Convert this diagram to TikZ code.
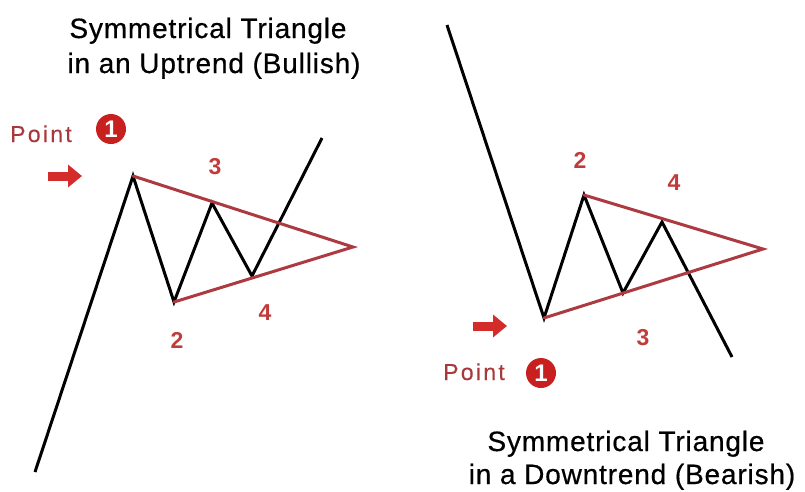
\documentclass[tikz,border=0pt]{standalone}
\usepackage{fontspec}
\setmainfont{Liberation Sans}
\newfontfamily\titlefont[LetterSpace=3, FakeBold=0.6]{Liberation Sans}
\newfontfamily\pointfont[LetterSpace=10, FakeBold=0.3]{Liberation Sans}
\usetikzlibrary{arrows.meta}

\begin{document}
\begin{tikzpicture}[
    x=1pt, y=-1pt,
    every node/.style={inner sep=0pt},
    title/.style={font=\titlefont\fontsize{28}{34}\selectfont, anchor=base},
    count/.style={font=\bfseries\fontsize{23}{28}\selectfont, text=numred},
    pointlabel/.style={font=\pointfont\fontsize{23}{28}\selectfont,
                       text=ptext, anchor=base west},
    badge/.style={circle, fill=badgered, minimum size=30pt, text=white,
                  font=\bfseries\fontsize{24}{26}\selectfont},
    price/.style={line width=3pt, black, line join=miter},
    trend/.style={line width=3pt, trendred, line cap=round},
    pointer/.style={-{Triangle[length=14pt, width=22pt]}, line width=9pt,
                    arrowred},
]

\definecolor{arrowred}{HTML}{D42B2B}
\definecolor{numred}{HTML}{C23B3B}
\definecolor{trendred}{HTML}{AC3A40}
\definecolor{ptext}{HTML}{A8383C}
\definecolor{badgered}{HTML}{C8201E}

\useasboundingbox (0,0) rectangle (805,491);

% ------------------------------------------------------------ uptrend
\node[title] (titleL1) at (208,38) {Symmetrical Triangle};
\node[title] (titleL2) at (214,73) {in an Uptrend (Bullish)};

\coordinate (u0) at (35,472);
\coordinate (u1) at (133,176);
\coordinate (u2) at (174,302);
\coordinate (u3) at (212,203);
\coordinate (u4) at (252,276);
\coordinate (u5) at (322,138);
\coordinate (uapex) at (353,247);

\draw[price] (u0) -- (u1) -- (u2) -- (u3) -- (u4) -- (u5);
\draw[trend] (u1) -- (uapex) -- (u2);

\node[count] (uc3) at (215,167) {3};
\node[count] (uc2) at (177,340) {2};
\node[count] (uc4) at (265,313) {4};

\node[pointlabel] (upoint) at (10,142) {Point};
\node[badge] (ubadge) at (111,129) {1};
\coordinate (uarrS) at (48,176);
\coordinate (uarrE) at (82,176);
\draw[pointer] (uarrS) -- (uarrE);

% ------------------------------------------------------------ downtrend
\node[title] (titleR1) at (626,451) {Symmetrical Triangle};
\node[title] (titleR2) at (632,484) {in a Downtrend (Bearish)};

\coordinate (d0) at (447,25);
\coordinate (d1) at (544,318);
\coordinate (d2) at (584,195);
\coordinate (d3) at (623,293);
\coordinate (d4) at (662,222);
\coordinate (d5) at (732,357);
\coordinate (dapex) at (763,249);

\draw[price] (d0) -- (d1) -- (d2) -- (d3) -- (d4) -- (d5);
\draw[trend] (d1) -- (dapex) -- (d2);

\node[count] (dc2) at (580,160) {2};
\node[count] (dc4) at (674,183) {4};
\node[count] (dc3) at (643,338) {3};

\node[pointlabel] (dpoint) at (443,380) {Point};
\node[badge] (dbadge) at (541,373) {1};
\coordinate (darrS) at (473,326);
\coordinate (darrE) at (507,326);
\draw[pointer] (darrS) -- (darrE);

\end{tikzpicture}
\end{document}
